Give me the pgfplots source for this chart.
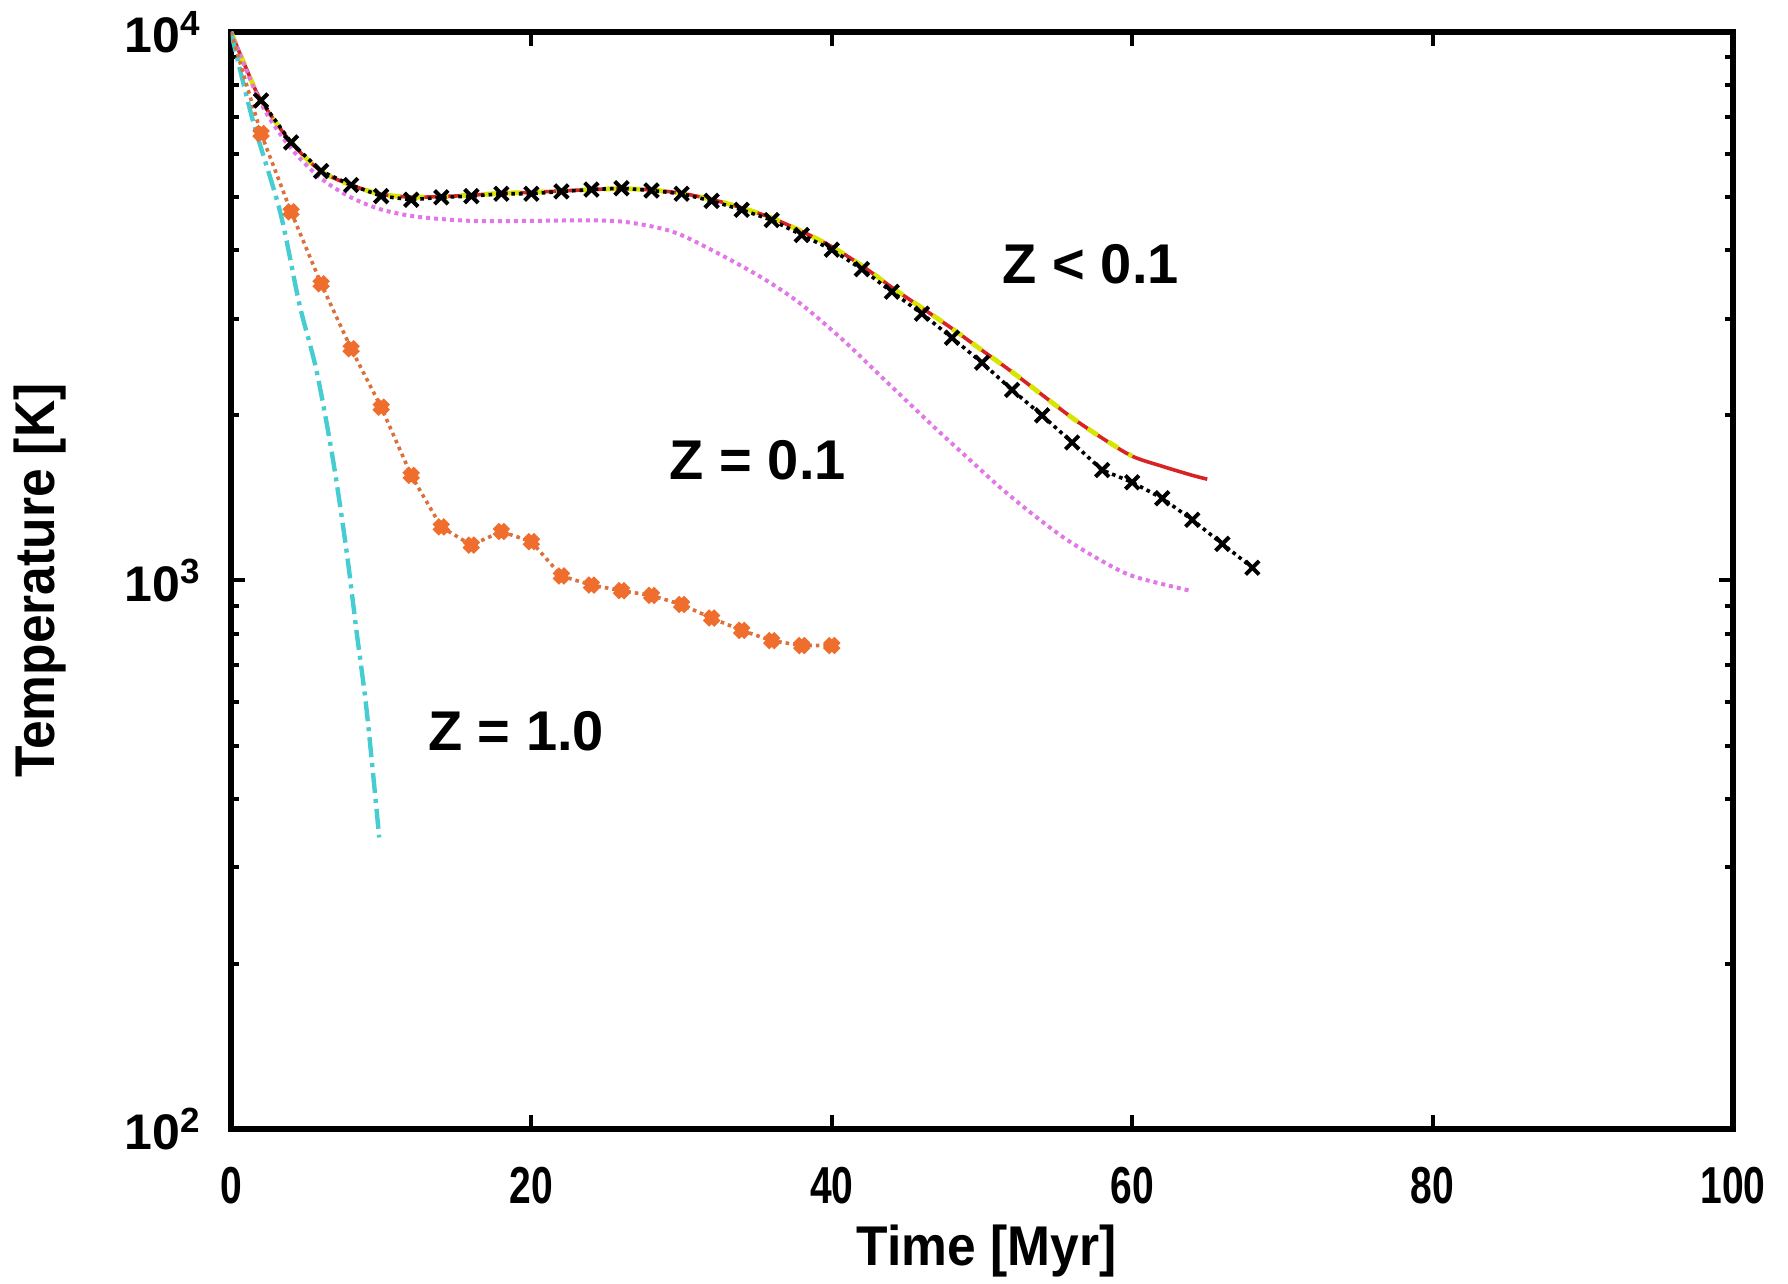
\documentclass[border=0pt]{standalone}
\usepackage{pgfplots}
\pgfplotsset{compat=1.18}
\usepackage{fontspec}
\setmainfont{Liberation Sans}
\newfontfamily\narrowfont[FakeStretch=0.75]{Liberation Sans}
\newfontfamily\semifont[FakeStretch=0.92]{Liberation Sans}
\definecolor{cOrange}{RGB}{240,110,45}
\definecolor{cCyan}{RGB}{70,205,210}
\definecolor{cMag}{RGB}{225,120,230}
\definecolor{cRed}{RGB}{215,35,35}
\definecolor{cYel}{RGB}{215,230,0}

\pgfplotstableread{
x T
0 10000
1 8600
2 7500
4 6290
6 5575
8 5260
10 5060
12 5000
14 5010
16 5040
18 5080
20 5100
22 5130
24 5160
26 5180
28 5150
30 5080
32 4950
34 4780
36 4580
38 4330
40 4060
42 3750
44 3422
46 3140
48 2880
50 2628
52 2400
54 2180
56 1980
58 1818
60 1685
62 1615
64 1555
65 1530
}\redtab

\pgfplotstableread{
x T
0 10000
1 8600
2 7500
4 6290
6 5575
8 5260
10 5060
12 5000
14 5010
16 5040
18 5080
20 5100
22 5130
24 5160
26 5180
28 5150
30 5080
32 4950
34 4780
36 4580
38 4330
40 4060
42 3750
44 3422
46 3140
48 2880
50 2628
52 2400
54 2180
56 1980
58 1818
60 1685
}\yeltab

\pgfplotstableread{
x T
2 7500
4 6290
6 5575
8 5260
10 5020
12 4945
14 4995
16 5020
18 5070
20 5070
22 5120
24 5160
26 5190
28 5140
30 5070
32 4920
34 4740
36 4540
38 4265
40 4010
42 3695
44 3360
46 3065
48 2770
50 2495
52 2225
54 2000
56 1785
58 1590
60 1510
62 1412
64 1290
66 1166
68 1055
}\blacktab

\pgfplotstableread{
x T
0 10000
1.97 7435
3.87 6195
5.85 5445
7.82 5020
9.79 4765
11.77 4630
13.74 4565
16.48 4520
20.27 4525
24.07 4535
26.5 4495
29.39 4325
32.12 3990
35.38 3560
37.89 3200
40.77 2740
43.81 2280
46.85 1900
49.13 1665
51.18 1480
53.38 1320
55.58 1190
57.86 1090
60.06 1018
63.86 958
}\magtab

\pgfplotstableread{
x T
0 10000
1.44 6920
3.27 4700
4.56 3185
5.69 2415
6.76 1680
7.67 1144
8.35 811
9.04 577
9.87 340
}\cyantab

\pgfplotstableread{
x T
0 10000
2 6530
4 4700
6 3475
8 2645
10 2070
12 1555
14 1252
16 1160
18 1228
20 1177
22 1019
24 981
26 958
28 939
30 904
32 854
34 811
36 777
38 761
40 761
}\orangetab

\begin{document}
\begin{tikzpicture}
\useasboundingbox (-57.75pt,-38.75pt) rectangle (389.25pt,282.25pt);
\begin{axis}[
  at={(0,0)}, anchor=south west,
  scale only axis, width=375.5pt, height=274.25pt,
  xmin=0, xmax=100, ymode=log, ymin=100, ymax=10000,
  xtick={0,20,40,60,80,100}, xticklabels={0,20,40,60,80,100},
  ytick={100,1000,10000},
  yticklabels={10\textsuperscript{2},10\textsuperscript{3},10\textsuperscript{4}},
  axis line style={line width=1.3pt},
  major tick length=3.5pt, minor tick length=2pt,
  every tick/.style={black, line width=1pt},
  xtick pos=both, ytick pos=both, tick align=inside,
  xticklabel style={font=\narrowfont\bfseries\fontsize{13}{13}\selectfont, anchor=center, yshift=-14.25pt},
  yticklabel style={font=\bfseries\fontsize{12.5}{12.5}\selectfont, anchor=east, xshift=-3.75pt},
  xlabel={Time [Myr]}, ylabel={Temperature [K]},
  xlabel style={font=\semifont\bfseries\fontsize{14}{14}\selectfont, at={(axis description cs:0.503,-0.1112)}, anchor=center},
  ylabel style={font=\semifont\bfseries\fontsize{14}{14}\selectfont, at={(axis description cs:-0.1272,0.5)}, anchor=center},
]
\addplot[cRed, line width=0.9pt, smooth] table[x=x,y=T] {\redtab};
\addplot[cYel, line width=1.2pt, dashed, smooth] table[x=x,y=T] {\yeltab};
\addplot[cMag, line width=1pt, densely dotted, smooth] table[x=x,y=T] {\magtab};
\addplot[cCyan, line width=1.1pt, dash pattern=on 5pt off 1.5pt on 1pt off 1.5pt, smooth] table[x=x,y=T] {\cyantab};
\addplot[cOrange!80!gray, line width=0.9pt, densely dotted, mark=x, mark phase=2, mark repeat=1, mark size=2pt,
  mark options={solid, cOrange, line width=2.2pt}] table[x=x,y=T] {\orangetab};
\addplot[black, line width=0.9pt, densely dotted, mark=x, mark size=2.4pt,
  mark options={solid, line width=1pt}] table[x=x,y=T] {\blacktab};
\node[font=\bfseries\fontsize{14}{14}\selectfont] at (axis cs:57.25,3767) {Z < 0.1};
\node[font=\bfseries\fontsize{14}{14}\selectfont] at (axis cs:35.08,1660) {Z = 0.1};
\node[font=\bfseries\fontsize{14}{14}\selectfont] at (axis cs:18.98,532) {Z = 1.0};
\end{axis}
\end{tikzpicture}
\end{document}
